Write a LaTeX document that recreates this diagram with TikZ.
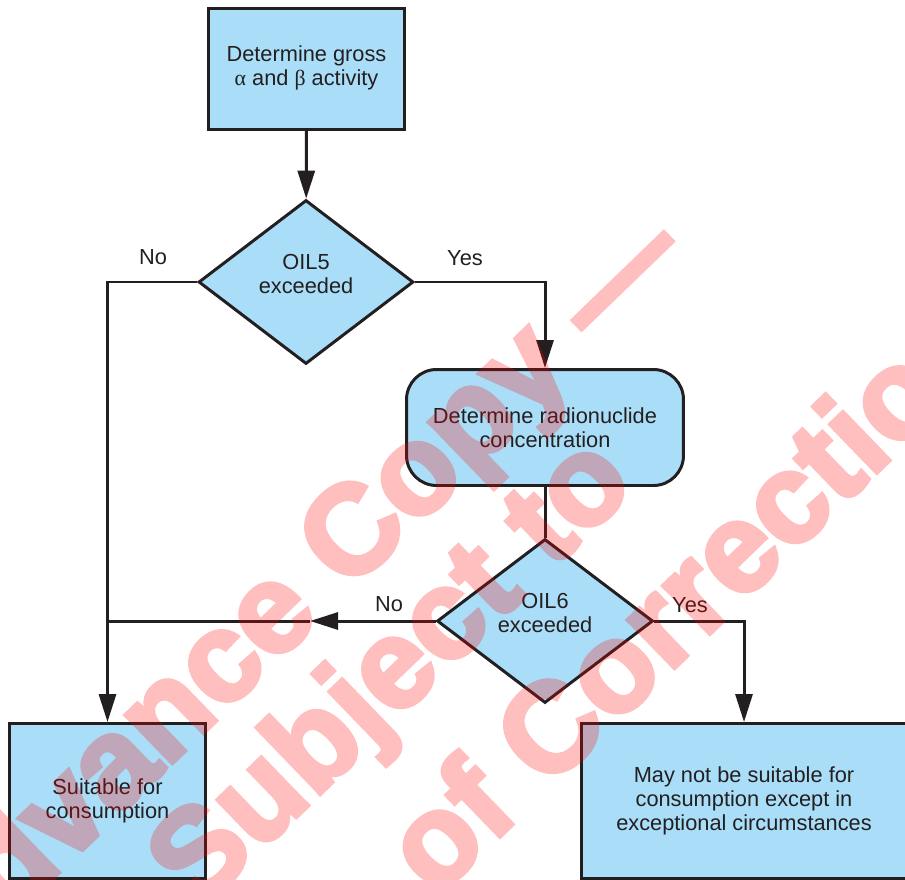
\documentclass[tikz,border=0pt]{standalone}
\usepackage{fontspec}
\setmainfont{Liberation Sans}
\newfontfamily\greekfont{Liberation Serif}
\newfontfamily\wmfont[FakeBold=3.5]{Liberation Sans Bold}
\usetikzlibrary{arrows.meta,shapes.geometric}

\definecolor{boxblue}{RGB}{170,222,248}
\definecolor{ink}{RGB}{35,31,32}

\tikzset{
  block/.style={draw=ink, line width=1.7pt, fill=boxblue, inner sep=0pt, align=center,
    text=ink, font=\fontsize{12.4}{13.6}\selectfont},
  rblock/.style={block, rounded corners=0.6cm},
  decision/.style={block, diamond, text depth=0.34cm},
  flow/.style={draw=ink, line width=1.7pt, -{Triangle[length=0.56cm, width=0.34cm]}},
  link/.style={draw=ink, line width=1.7pt},
  choice/.style={text=ink, font=\fontsize{12.4}{13.6}\selectfont},
  wmark/.style={text=red, rotate=44, inner sep=0pt,
    font=\fontsize{72}{72}\wmfont},
}

\begin{document}
\begin{tikzpicture}[x=0.02cm, y=-0.02cm]
\useasboundingbox (0,0) rectangle (905,879);
\clip (0,0) rectangle (905,879);

% Boxes
\node[block, text depth=0.14cm, minimum width=3.92cm, minimum height=2.42cm] (gross) at (306.5,69) {Determine gross\\{\greekfont α} and {\greekfont β} activity};
\node[decision, minimum width=4.3cm, minimum height=3.28cm] (oil5) at (306,282) {OIL5\\exceeded};
\node[rblock, minimum width=5.54cm, minimum height=2.32cm] (conc) at (545,427.5) {Determine radionuclide\\concentration};
\node[decision, minimum width=4.32cm, minimum height=3.28cm] (oil6) at (545,621) {OIL6\\exceeded};
\node[block, minimum width=3.92cm, minimum height=3.1cm] (suit) at (107.5,801) {Suitable for\\consumption};
\node[block, minimum width=6.5cm, minimum height=3.1cm] (unsuit) at (744,801) {May not be suitable for\\consumption except in\\exceptional circumstances};

% Arrows
\coordinate (tip) at (310,621);
\coordinate (join) at (107.5,621);
\draw[flow] (gross) -- (oil5);
\draw[flow] (oil5.west) -| (suit.north);
\draw[flow] (oil5.east) -| (conc.north);
\draw[link] (conc) -- (oil6);
\draw[flow] (oil6.west) -- (tip);
\draw[link] (tip) -- (join);
\draw[flow] (oil6.east) -| (unsuit.north);

% Answers
\node[choice] (no5) at (153,257) {No};
\node[choice] (yes5) at (465,258) {Yes};
\node[choice] (no6) at (389,604) {No};
\node[choice] (yes6) at (690,605) {Yes};

% Watermark
\begin{scope}[transparency group, opacity=0.25]
\node[wmark] (wm1) at (295,599) {Advance Copy —};
\node[wmark] (wm2) at (395,676) {Subject to};
\node[wmark] (wm3) at (690,590) {of Correction};
\end{scope}

\end{tikzpicture}
\end{document}
